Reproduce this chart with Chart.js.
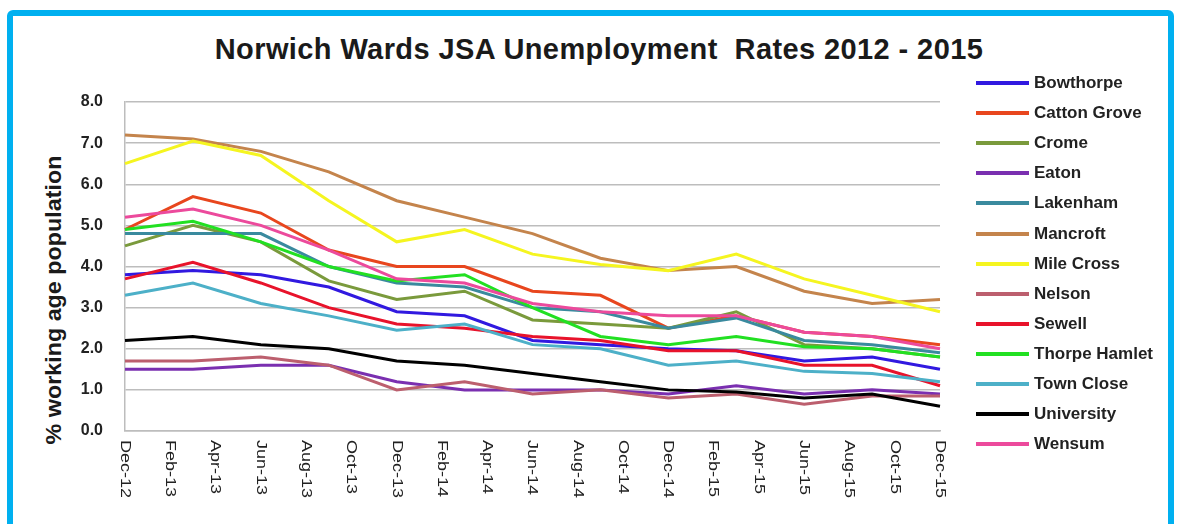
<!DOCTYPE html>
<html>
<head>
<meta charset="utf-8">
<script src="https://cdn.jsdelivr.net/npm/chart.js@4"></script>
<style>
  html, body { margin:0; padding:0; background:#fff; }
  body { width:1179px; height:524px; position:relative; overflow:hidden; font-family:"Liberation Sans", Arial, sans-serif; }
  #frame { position:absolute; left:7px; top:10px; width:1167px; height:600px; border:6px solid #00B0F0; border-radius:6px; box-sizing:border-box; }
  #title { position:absolute; top:33px; left:599px; transform:translateX(-50%); white-space:pre; font:bold 29px "Liberation Sans", Arial, sans-serif; letter-spacing:0.4px; color:#1a1a1a; }
  #ytitle { position:absolute; left:54px; top:300px; transform:translate(-50%,-50%) rotate(-90deg) scaleX(1.06); white-space:nowrap; font:bold 22px "Liberation Sans", Arial, sans-serif; color:#1a1a1a; }
  #chartWrap { position:absolute; left:0; top:0; width:1179px; height:524px; }
  #legend { position:absolute; left:0; top:0; }
  .lg-row { position:absolute; left:976px; height:30px; display:flex; align-items:center; }
  .lg-line { width:53px; height:4px; margin-right:5px; }
  .lg-text { font:bold 17px "Liberation Sans", Arial, sans-serif; color:#222; white-space:nowrap; }
</style>
</head>
<body>
<div id="frame"></div>
<div id="title">Norwich Wards JSA Unemployment  Rates 2012 - 2015</div>
<div id="ytitle">% working age population</div>
<div id="chartWrap"><canvas id="c" width="1179" height="524"></canvas></div>
<div id="legend"></div>
<script>
// ---- Data ----
const monthLabels = ['Dec-12','Jan-13','Feb-13','Mar-13','Apr-13','May-13','Jun-13','Jul-13','Aug-13','Sep-13','Oct-13','Nov-13',
  'Dec-13','Jan-14','Feb-14','Mar-14','Apr-14','May-14','Jun-14','Jul-14','Aug-14','Sep-14','Oct-14','Nov-14',
  'Dec-14','Jan-15','Feb-15','Mar-15','Apr-15','May-15','Jun-15','Jul-15','Aug-15','Sep-15','Oct-15','Nov-15','Dec-15'];
const quarterLabels = ['Dec-12','Mar-13','Jun-13','Sep-13','Dec-13','Mar-14','Jun-14','Sep-14','Dec-14','Mar-15','Jun-15','Sep-15','Dec-15'];

const wardNames = ['Bowthorpe','Catton Grove','Crome','Eaton','Lakenham','Mancroft','Mile Cross','Nelson','Sewell','Thorpe Hamlet','Town Close','University','Wensum'];

const bowthorpe    = [3.8, 3.9, 3.8, 3.5, 2.9, 2.8, 2.2, 2.1, 2.0, 1.95, 1.7, 1.8, 1.5];
const cattonGrove  = [4.9, 5.7, 5.3, 4.4, 4.0, 4.0, 3.4, 3.3, 2.5, 2.8, 2.4, 2.3, 2.1];
const crome        = [4.5, 5.0, 4.6, 3.65, 3.2, 3.4, 2.7, 2.6, 2.5, 2.9, 2.1, 2.0, 1.8];
const eaton        = [1.5, 1.5, 1.6, 1.6, 1.2, 1.0, 1.0, 1.0, 0.9, 1.1, 0.9, 1.0, 0.9];
const lakenham     = [4.8, 4.8, 4.8, 4.0, 3.6, 3.5, 3.0, 2.9, 2.5, 2.75, 2.2, 2.1, 1.9];
const mancroft     = [7.2, 7.1, 6.8, 6.3, 5.6, 5.2, 4.8, 4.2, 3.9, 4.0, 3.4, 3.1, 3.2];
const mileCross    = [6.5, 7.05, 6.7, 5.6, 4.6, 4.9, 4.3, 4.05, 3.9, 4.3, 3.7, 3.3, 2.9];
const nelson       = [1.7, 1.7, 1.8, 1.6, 1.0, 1.2, 0.9, 1.0, 0.8, 0.9, 0.65, 0.85, 0.85];
const sewell       = [3.7, 4.1, 3.6, 3.0, 2.6, 2.5, 2.3, 2.2, 1.95, 1.95, 1.6, 1.6, 1.1];
const thorpeHamlet = [4.9, 5.1, 4.6, 4.0, 3.65, 3.8, 3.0, 2.3, 2.1, 2.3, 2.05, 2.0, 1.8];
const townClose    = [3.3, 3.6, 3.1, 2.8, 2.45, 2.6, 2.1, 2.0, 1.6, 1.7, 1.45, 1.4, 1.2];
const university   = [2.2, 2.3, 2.1, 2.0, 1.7, 1.6, 1.4, 1.2, 1.0, 0.95, 0.8, 0.9, 0.6];
const wensum       = [5.2, 5.4, 5.0, 4.4, 3.7, 3.6, 3.1, 2.9, 2.8, 2.8, 2.4, 2.3, 2.0];

const yTicks = [0, 1, 2, 3, 4, 5, 6, 7, 8];

// ---- Styles ----
const seriesValues = [bowthorpe, cattonGrove, crome, eaton, lakenham, mancroft, mileCross, nelson, sewell, thorpeHamlet, townClose, university, wensum];
const seriesColors = ['#3119E0','#E8461E','#7A9A3C','#7A2FB0','#3A8A9E','#C4844C','#F5F520','#BC5F6E','#E8132B','#22E022','#4DB0C8','#000000','#EC4A9C'];

const datasets = seriesValues.map((vals, i) => ({
  label: wardNames[i],
  data: vals.map((v, k) => ({ x: quarterLabels[k], y: v })),
  borderColor: seriesColors[i],
  backgroundColor: seriesColors[i],
  borderWidth: 3,
  pointRadius: 0,
  tension: 0,
  fill: false,
  order: seriesValues.length - i
}));

const xLabelPlugin = {
  id: 'xLabels',
  afterDraw(chart) {
    const xs = chart.scales.x;
    const ctx = chart.ctx;
    ctx.save();
    ctx.font = '15px "Liberation Sans", Arial, sans-serif';
    ctx.fillStyle = '#222';
    monthLabels.forEach((lab, i) => {
      if (i % 2 !== 0) return;
      const x = xs.getPixelForValue(i);
      ctx.save();
      ctx.translate(x, xs.bottom + 9);
      ctx.rotate(Math.PI / 2);
      ctx.scale(1.2, 1);
      ctx.textAlign = 'left';
      ctx.textBaseline = 'middle';
      ctx.fillText(lab, 0, 0);
      ctx.restore();
    });
    ctx.restore();
  }
};

const chart = new Chart(document.getElementById('c'), {
  type: 'line',
  data: { labels: monthLabels, datasets },
  options: {
    responsive: false,
    animation: false,
    devicePixelRatio: 1,
    layout: { padding: { left: 0, right: 239, top: 102, bottom: 93 } },
    plugins: { legend: { display: false }, title: { display: false }, tooltip: { enabled: false } },
    scales: {
      x: {
        type: 'category',
        offset: false,
        grid: { display: false },
        border: { display: true, color: '#BDBDBD', width: 1.5 },
        ticks: { display: false },
        afterFit: (s) => { s.height = 0; }
      },
      y: {
        min: 0, max: 8,
        afterBuildTicks: (s) => { s.ticks = yTicks.map(v => ({ value: v })); },
        afterFit: (s) => { s.width = 125; },
        grid: { color: '#BDBDBD', lineWidth: 1.5, drawTicks: false },
        border: { display: true, color: '#BDBDBD', width: 1.5 },
        ticks: { padding: 22, color: '#222', font: { family: '"Liberation Sans", Arial, sans-serif', size: 16, weight: 'bold' },
                 callback: (v) => Number(v).toFixed(1) }
      }
    }
  },
  plugins: [xLabelPlugin]
});

// ---- HTML legend built from the datasets ----
const legendEl = document.getElementById('legend');
chart.data.datasets.forEach((ds, i) => {
  const row = document.createElement('div');
  row.className = 'lg-row';
  row.style.top = (83 + i * 30.1 - 15) + 'px';
  const line = document.createElement('span');
  line.className = 'lg-line';
  line.style.background = ds.borderColor;
  const txt = document.createElement('span');
  txt.className = 'lg-text';
  txt.textContent = ds.label;
  row.appendChild(line); row.appendChild(txt);
  legendEl.appendChild(row);
});
</script>
</body>
</html>
